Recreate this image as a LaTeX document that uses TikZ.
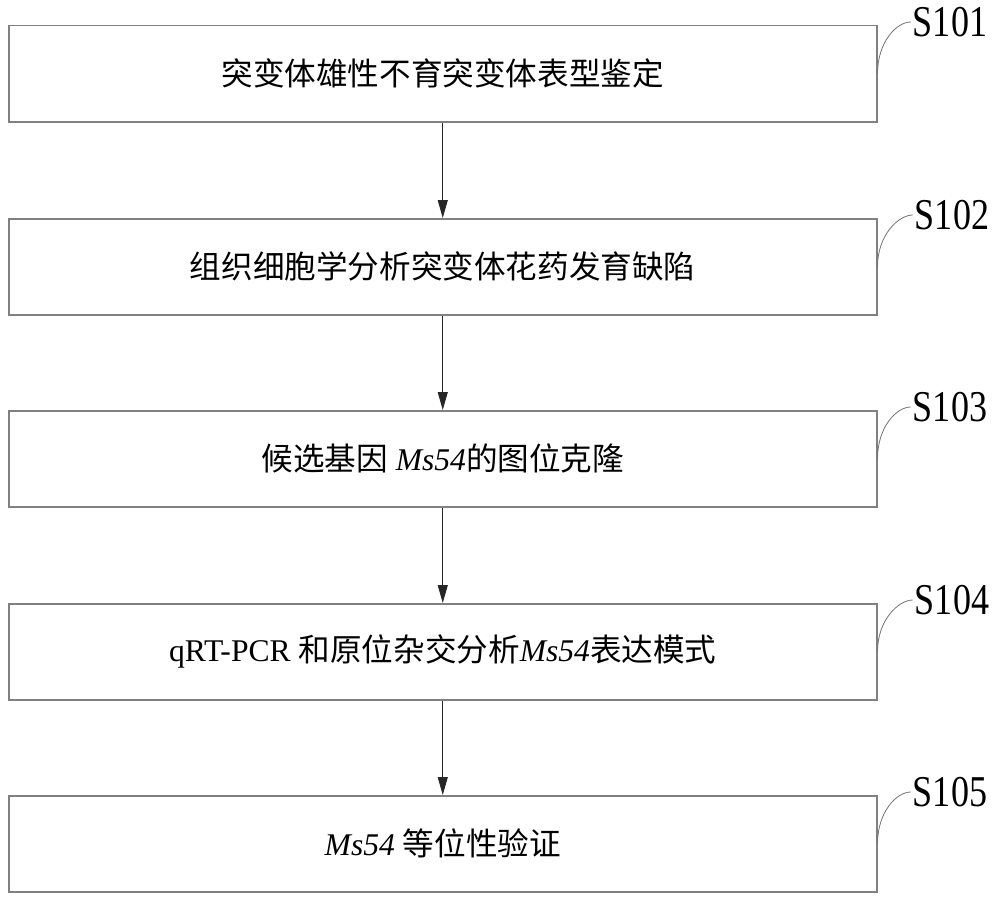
\documentclass[tikz,border=0pt]{standalone}
\usepackage{fontspec}
\setmainfont{Liberation Serif}
\newfontfamily\cjk{Noto Sans CJK SC}
\newfontfamily\labfont[FakeStretch=0.82]{Liberation Serif}
\usetikzlibrary{arrows.meta}
\begin{document}
\begin{tikzpicture}[x=1pt,y=-1pt,
  stepbox/.style={draw=black!50,line width=1.5pt,minimum width=868pt,minimum height=96pt,
    inner sep=0pt,anchor=north west,font=\fontsize{31.6}{36}\selectfont},
  steplab/.style={inner sep=2pt,font=\labfont\fontsize{44}{44}\selectfont},
  lead/.style={draw=black!55,line width=0.8pt},
  arr/.style={draw=black!85,line width=1pt,-{Triangle[length=18pt,width=10pt]}}]
\useasboundingbox (0,0) rectangle (1000,899);
\fill[white] (0,0) rectangle (1000,899);

\node[stepbox] (b1) at (8,25) {\cjk 突变体雄性不育突变体表型鉴定};
\node[stepbox] (b2) at (8,218) {\cjk 组织细胞学分析突变体花药发育缺陷};
\node[stepbox] (b3) at (8,410) {{\cjk 候选基因} \textit{Ms54}{\cjk 的图位克隆}};
\node[stepbox] (b4) at (8,603) {qRT-PCR {\cjk 和原位杂交分析}\textit{Ms54}{\cjk 表达模式}};
\node[stepbox] (b5) at (8,795) {\textit{Ms54} {\cjk 等位性验证}};

\node[steplab] (l1) at (950,22) {S101};
\node[steplab] (l2) at (952,215) {S102};
\node[steplab] (l3) at (950,407) {S103};
\node[steplab] (l4) at (952,600) {S104};
\node[steplab] (l5) at (950,792) {S105};

\foreach \i in {1,...,5}{
  \draw[lead] (b\i.east) .. controls +(0,-32) and +(-14,0) .. (l\i.west);
}
\draw[arr] (b1.south) -- (b2.north);
\draw[arr] (b2.south) -- (b3.north);
\draw[arr] (b3.south) -- (b4.north);
\draw[arr] (b4.south) -- (b5.north);
\end{tikzpicture}
\end{document}
